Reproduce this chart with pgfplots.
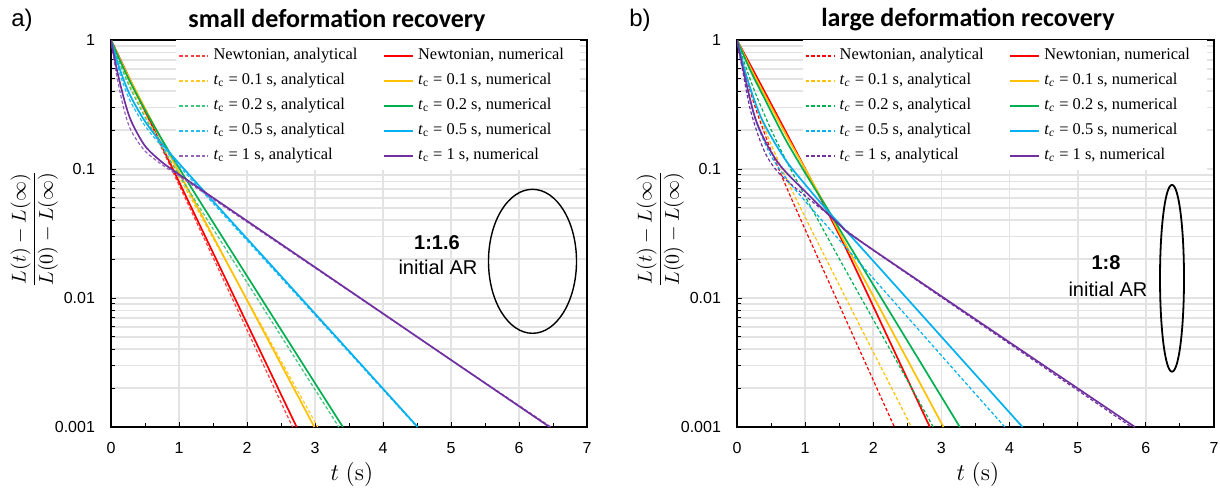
\documentclass[border=0pt]{standalone}
\usepackage[no-math]{fontspec}
\setmainfont{Liberation Serif}
\newfontfamily\helv{Liberation Sans}
\newfontfamily\cali{Carlito}
\usepackage{pgfplots}
\pgfplotsset{compat=1.18}

\definecolor{cred}{RGB}{255,0,0}
\definecolor{cyel}{RGB}{255,192,0}
\definecolor{cgrn}{RGB}{0,176,80}
\definecolor{cblu}{RGB}{0,176,240}
\definecolor{cpur}{RGB}{112,48,160}

\pgfplotsset{
 panel/.style={
   scale only axis, width=238pt, height=193.5pt,
   xmin=0, xmax=7, ymin=0.001, ymax=1,
   xtick={0,1,2,3,4,5,6,7}, xticklabels={0,1,2,3,4,5,6,7},
   minor xtick={0.5,1.5,2.5,3.5,4.5,5.5,6.5},
   ytick={0.001,0.01,0.1,1}, yticklabels={0.001,0.01,0.1,1},
   minor ytick={0.002,0.003,0.004,0.005,0.006,0.007,0.008,0.009,0.02,0.03,0.04,0.05,0.06,0.07,0.08,0.09,0.2,0.3,0.4,0.5,0.6,0.7,0.8,0.9},
   tick pos=left, tick align=inside,
   major tick length=2.5pt, minor tick length=2pt,
   xmajorgrids=true, ymajorgrids=true, yminorgrids=true, xminorgrids=false,
   major grid style={black!11, line width=0.9pt},
   minor grid style={black!11, line width=0.9pt},
   axis line style={black, line width=0.6pt},
   tick style={black, line width=0.5pt},
   ticklabel style={font=\helv\fontsize{8}{9}\selectfont},
   xticklabel style={yshift=-4pt},
   yticklabel style={xshift=-4.5pt},
   legend columns=2, legend cell align=left,
   legend style={at={(0.1375,1)}, anchor=north west, yshift=-0.5pt,
     draw=none, fill=none, inner sep=1pt, row sep=0pt,
     font=\fontsize{8.2}{10}\selectfont,
     nodes={inner sep=2.25pt, text height=6pt, text depth=2pt},
     /tikz/every even column/.append style={column sep=10.5pt}},
 },
 ana/.style={line width=0.6pt, dash pattern=on 1.7pt off 1.1pt, smooth},
 num/.style={line width=0.85pt, smooth},
}

\begin{document}
\begin{tikzpicture}
\useasboundingbox (0,0) rectangle (610pt,244.5pt);

% ---------------- left panel ----------------
\begin{axis}[panel, ymode=log, at={(55.5pt,31pt)}, anchor=south west,
  legend image code/.code={\draw[#1] (0pt,0pt) -- (14.5pt,0pt);}]
\fill[white] (rel axis cs:0.1375,0.664) rectangle (rel axis cs:0.985,1);
\addplot[cred!75, ana] coordinates {(0,1)(2.67,0.001)};
\addlegendentry{Newtonian, analytical}
\addplot[cred, num] coordinates {(0,1)(2.73,0.001)};
\addlegendentry{Newtonian, numerical}
\addplot[cyel!85, ana] coordinates {(0,1)(0.1,0.725)(0.2,0.548)(0.3,0.424)(0.5,0.265)(1.0,0.0873)(2.0,0.00977)(3.04,0.001)};
\addlegendentry{\textit{t}\textsubscript{c} = 0.1 s, analytical}
\addplot[cyel, num] coordinates {(0,1)(0.1,0.768)(0.2,0.599)(0.3,0.472)(0.5,0.296)(1.0,0.0941)(2.0,0.00963)(2.99,0.001)};
\addlegendentry{\textit{t}\textsubscript{c} = 0.1 s, numerical}
\addplot[cgrn!75, ana] coordinates {(0,1)(0.1,0.716)(0.2,0.531)(0.3,0.405)(0.5,0.252)(0.75,0.148)(1.0,0.0902)(1.5,0.0344)(2.5,0.00507)(3.35,0.001)};
\addlegendentry{\textit{t}\textsubscript{c} = 0.2 s, analytical}
\addplot[cgrn, num] coordinates {(0,1)(0.1,0.755)(0.2,0.580)(0.3,0.453)(0.5,0.287)(0.75,0.169)(1.0,0.102)(1.5,0.0387)(2.5,0.00569)(3.41,0.001)};
\addlegendentry{\textit{t}\textsubscript{c} = 0.2 s, numerical}
\addplot[cblu!85, ana] coordinates {(0,1)(0.1,0.619)(0.2,0.427)(0.3,0.323)(0.5,0.216)(0.75,0.149)(1.0,0.1057)(1.5,0.0543)(2.5,0.01436)(3.5,0.00379)(4.50,0.001)};
\addlegendentry{\textit{t}\textsubscript{c} = 0.5 s, analytical}
\addplot[cblu, num] coordinates {(0,1)(0.1,0.661)(0.2,0.470)(0.3,0.356)(0.5,0.234)(0.75,0.157)(1.0,0.1106)(1.5,0.0564)(2.5,0.0148)(3.5,0.00388)(4.51,0.001)};
\addlegendentry{\textit{t}\textsubscript{c} = 0.5 s, numerical}
\addplot[cpur!75, ana] coordinates {(0,1)(0.05,0.677)(0.1,0.478)(0.2,0.278)(0.3,0.196)(0.5,0.138)(0.75,0.108)(1.0,0.0882)(1.5,0.0585)(2,0.0388)(3,0.0171)(4,0.00754)(5,0.00332)(6.47,0.001)};
\addlegendentry{\textit{t}\textsubscript{c} = 1 s, analytical}
\addplot[cpur, num] coordinates {(0,1)(0.05,0.730)(0.1,0.547)(0.2,0.336)(0.3,0.233)(0.5,0.151)(0.75,0.113)(1.0,0.0909)(1.5,0.0599)(2,0.0396)(3,0.01733)(4,0.00758)(5,0.00331)(6.45,0.001)};
\addlegendentry{\textit{t}\textsubscript{c} = 1 s, numerical}
\end{axis}

% ---------------- right panel ----------------
\begin{axis}[panel, ymode=log, at={(368.5pt,31pt)}, anchor=south west, width=238.5pt,
  legend image code/.code={\draw[#1] (0pt,0pt) -- (14.5pt,0pt);}]
\fill[white] (rel axis cs:0.1375,0.664) rectangle (rel axis cs:0.985,1);
\addplot[cred, ana] coordinates {(0,1)(0.05,0.771)(0.1,0.606)(0.2,0.392)(0.3,0.268)(0.5,0.139)(0.75,0.0676)(1.0,0.0340)(1.5,0.00883)(2.0,0.0023)(2.31,0.001)};
\addlegendentry{Newtonian, analytical}
\addplot[cred, num] coordinates {(0,1)(0.4,0.4027)(0.78,0.1679)(1.2,0.0631)(1.34,0.0452)(1.61,0.02355)(2.2,0.00513)(2.83,0.001)};
\addlegendentry{Newtonian, numerical}
\addplot[cyel, ana] coordinates {(0,1)(0.05,0.788)(0.1,0.630)(0.2,0.417)(0.3,0.290)(0.5,0.155)(0.75,0.0788)(1.0,0.0423)(1.5,0.0126)(2.0,0.00381)(2.56,0.001)};
\addlegendentry{\textit{t}\textsubscript{\textit{c}} = 0.1 s, analytical}
\addplot[cyel, num] coordinates {(0,1)(0.2,0.6026)(0.4,0.3802)(0.75,0.1718)(1.0,0.1)(1.36,0.0452)(1.64,0.02344)(3.03,0.001)};
\addlegendentry{\textit{t}\textsubscript{\textit{c}} = 0.1 s, numerical}
\addplot[cgrn, ana] coordinates {(0,1)(0.05,0.824)(0.1,0.684)(0.2,0.485)(0.3,0.354)(0.5,0.202)(0.75,0.1087)(1.0,0.0613)(1.5,0.0202)(2.0,0.0068)(2.5,0.0023)(2.88,0.001)};
\addlegendentry{\textit{t}\textsubscript{\textit{c}} = 0.2 s, analytical}
\addplot[cgrn, num] coordinates {(0,1)(0.2,0.5754)(0.4,0.3548)(0.7,0.1738)(1.0,0.0933)(1.37,0.0452)(1.68,0.02399)(3.27,0.001)};
\addlegendentry{\textit{t}\textsubscript{\textit{c}} = 0.2 s, numerical}
\addplot[cblu, ana] coordinates {(0,1)(0.05,0.728)(0.1,0.543)(0.2,0.326)(0.3,0.218)(0.5,0.126)(0.75,0.081)(1.0,0.0564)(1.5,0.0282)(2.0,0.0142)(3.0,0.00358)(3.93,0.001)};
\addlegendentry{\textit{t}\textsubscript{\textit{c}} = 0.5 s, analytical}
\addplot[cblu, num] coordinates {(0,1)(0.15,0.501)(0.37,0.2399)(0.7,0.1202)(1.0,0.0759)(1.34,0.04677)(1.855,0.02355)(4.19,0.001)};
\addlegendentry{\textit{t}\textsubscript{\textit{c}} = 0.5 s, numerical}
\addplot[cpur, ana] coordinates {(0,1)(0.07,0.631)(0.2,0.2818)(0.4,0.138)(0.63,0.0912)(1.12,0.0550)(1.36,0.0437)(2.0,0.02344)(5.79,0.001)};
\addlegendentry{\textit{t}\textsubscript{\textit{c}} = 1 s, analytical}
\addplot[cpur, num] coordinates {(0,1)(0.1,0.5623)(0.29,0.2291)(0.6,0.1122)(1.05,0.0631)(1.5,0.03715)(2.0,0.02355)(5.84,0.001)};
\addlegendentry{\textit{t}\textsubscript{\textit{c}} = 1 s, numerical}
\end{axis}

% ---------------- labels and annotations ----------------
\node[font=\helv\fontsize{12}{14}\selectfont] at (11pt,234.5pt) {a)};
\node[font=\helv\fontsize{12}{14}\selectfont] at (320pt,234.5pt) {b)};
\node[font=\cali\bfseries\fontsize{13}{15}\selectfont] at (168.5pt,234.5pt) {small deformation recovery};
\node[font=\cali\bfseries\fontsize{13}{15}\selectfont] at (484pt,234.5pt) {large deformation recovery};
\node[rotate=90, font=\fontsize{10}{12}\selectfont] at (17.15pt,130pt) {$\displaystyle\frac{L(t)-L(\infty)}{L(0)-L(\infty)}$};
\node[rotate=90, font=\fontsize{10}{12}\selectfont] at (330.15pt,130pt) {$\displaystyle\frac{L(t)-L(\infty)}{L(0)-L(\infty)}$};
\node[font=\fontsize{13}{15}\selectfont] at (176pt,7.5pt) {$t\ (\mathrm{s})$};
\node[font=\fontsize{13}{15}\selectfont] at (489pt,7.5pt) {$t\ (\mathrm{s})$};
\node[font=\helv\bfseries\fontsize{10}{12}\selectfont] at (218.5pt,123pt) {1:1.6};
\node[font=\helv\fontsize{10}{12}\selectfont] at (219pt,111pt) {initial AR};
\draw[black, line width=0.7pt] (266.25pt,113.85pt) ellipse [x radius=22pt, y radius=36pt];
\node[font=\helv\bfseries\fontsize{10}{12}\selectfont] at (553pt,113pt) {1:8};
\node[font=\helv\fontsize{10}{12}\selectfont] at (554pt,100pt) {initial AR};
\draw[black, line width=0.9pt] (586pt,105.35pt) ellipse [x radius=6pt, y radius=46.7pt];
\end{tikzpicture}
\end{document}
